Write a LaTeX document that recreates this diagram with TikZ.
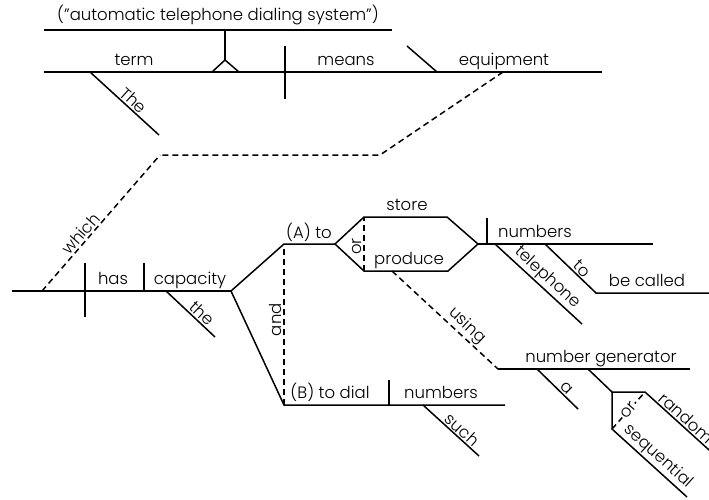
\documentclass[tikz,border=0pt]{standalone}
\usepackage{fontspec}
\setmainfont{Poppins}[UprightFont=* Light]
\begin{document}
\begin{tikzpicture}[x=1pt,y=-1pt,line width=1.5pt,
  word/.style={font=\fontsize{16.5}{18}\selectfont,inner sep=0pt,anchor=base},
  slant/.style={font=\fontsize{16.5}{18}\selectfont,inner sep=1.5pt,sloped,above},
  link/.style={dash pattern=on 6pt off 4pt}]
\useasboundingbox (0,0) rectangle (709,499);
\clip (0,0) rectangle (709,499);

% ---------- main clause ----------
\coordinate (tL) at (44,30);   \coordinate (tR) at (392,30);
\coordinate (stemT) at (225,30); \coordinate (stemB) at (225,60);
\coordinate (pedL) at (212,72); \coordinate (pedR) at (239,72);
\coordinate (mL) at (44,72);   \coordinate (mR) at (602,72);
\coordinate (svT) at (285,46); \coordinate (svB) at (285,99);
\coordinate (pnT) at (407,46); \coordinate (pnB) at (437,72);
\coordinate (theA) at (90,72); \coordinate (theB) at (159,135);

\draw (tL) -- (tR);
\draw (stemT) -- (stemB);
\draw (pedL) -- (stemB) -- (pedR);
\draw (mL) -- (mR);
\draw (svT) -- (svB);
\draw (pnT) -- (pnB);
\draw (theA) -- node[slant,pos=.55] (wThe) {The} (theB);

\node[word] (wTitle) at (218,20) {(”automatic telephone dialing system”)};
\node[word] (wTerm) at (134,65) {term};
\node[word] (wMeans) at (346,65) {means};
\node[word] (wEquip) at (504,65) {equipment};

% ---------- relative clause link ----------
\coordinate (rel0) at (503,72);
\coordinate (rel1) at (380,155);
\coordinate (rel2) at (160,155);
\coordinate (rel3) at (42,291);
\draw[link] (rel0) -- (rel1) -- (rel2);
\draw[link] (rel3) -- node[slant,pos=.38] (wWhich) {which} (rel2);

% ---------- relative clause ----------
\coordinate (bL) at (12,291);  \coordinate (fork) at (231,291);
\coordinate (dvT) at (85,263); \coordinate (dvB) at (85,317);
\coordinate (doT) at (144,263); \coordinate (doB) at (144,291);
\coordinate (the2A) at (166,291); \coordinate (the2B) at (215,337);
\coordinate (aL) at (284,244); \coordinate (aR) at (335,244);
\coordinate (bBL) at (284,405); \coordinate (bBR) at (505,405);

\draw (bL) -- (fork);
\draw (dvT) -- (dvB);
\draw (doT) -- (doB);
\draw (the2A) -- node[slant,pos=.62] (wthe) {the} (the2B);
\draw (fork) -- (aL) -- (aR);
\draw (fork) -- (bBL) -- (bBR);
\draw[link] (bBL) -- node[slant,pos=.53] (wAnd) {and} (aL);

\node[word] (wHas) at (113,284) {has};
\node[word] (wCap) at (190,284) {capacity};
\node[word] (wAto) at (309,238) {(A) to};

% store / produce
\coordinate (hUL) at (364,217); \coordinate (hUR) at (447,217);
\coordinate (hR) at (478,244);
\coordinate (hLR) at (448,271); \coordinate (hLL) at (364,271);
\draw (aR) -- (hUL) -- (hUR) -- (hR) -- (hLR) -- (hLL) -- cycle;
\draw[link] (hLL) -- node[slant,pos=.45] (wOr1) {or} (hUL);
\node[word] (wStore) at (407,210) {store};
\node[word] (wProduce) at (409,264) {produce};

% numbers (object of store / produce)
\coordinate (nR) at (653,244);
\coordinate (nvT) at (487,218); \coordinate (nvB) at (487,244);
\coordinate (telA) at (495,244); \coordinate (telB) at (582,324);
\coordinate (toA) at (545,244); \coordinate (toB) at (596,293);
\coordinate (bcR) at (712,293);
\draw (hR) -- (nR);
\draw (nvT) -- (nvB);
\draw (telA) -- node[slant,pos=.52] (wTel) {telephone} (telB);
\draw (toA) -- node[slant,pos=.62] (wTo) {to} (toB) -- (bcR);
\node[word] (wNum1) at (535,237) {numbers};
\node[word] (wBe) at (647,286) {be called};

% using a number generator
\coordinate (usA) at (392,271); \coordinate (usB) at (498,369);
\coordinate (ngR) at (690,369);
\coordinate (artA) at (537,369); \coordinate (artB) at (578,409);
\coordinate (brA) at (588,369); \coordinate (brK) at (612,392);
\coordinate (brR) at (645,392); \coordinate (brD) at (612,429);
\coordinate (ranB) at (740,478); \coordinate (seqB) at (687,497);
\draw[link] (usA) -- node[slant,pos=.64] (wUsing) {using} (usB);
\draw (usB) -- (ngR);
\draw (artA) -- node[slant,pos=.6] (wA) {a} (artB);
\draw (brA) -- (brK) -- (brR) -- node[slant,pos=.1,anchor=south west] (wRandom) {random} (ranB);
\draw (brK) -- (brD) -- node[slant,pos=.52] (wSeq) {sequential} (seqB);
\draw[link] (brD) -- node[pos=.5,sloped,fill=white,inner sep=1pt,font=\fontsize{16.5}{18}\selectfont] (wOr2) {or} (brR);
\node[word] (wNG) at (601,362) {number generator};

% to dial such numbers
\coordinate (bvT) at (389,380); \coordinate (bvB) at (389,405);
\coordinate (suA) at (423,405); \coordinate (suB) at (479,456);
\draw (bvT) -- (bvB);
\draw (suA) -- node[slant,pos=.6] (wSuch) {such} (suB);
\node[word] (wBdial) at (330,398) {(B) to dial};
\node[word] (wNum2) at (441,398) {numbers};
\end{tikzpicture}
\end{document}
